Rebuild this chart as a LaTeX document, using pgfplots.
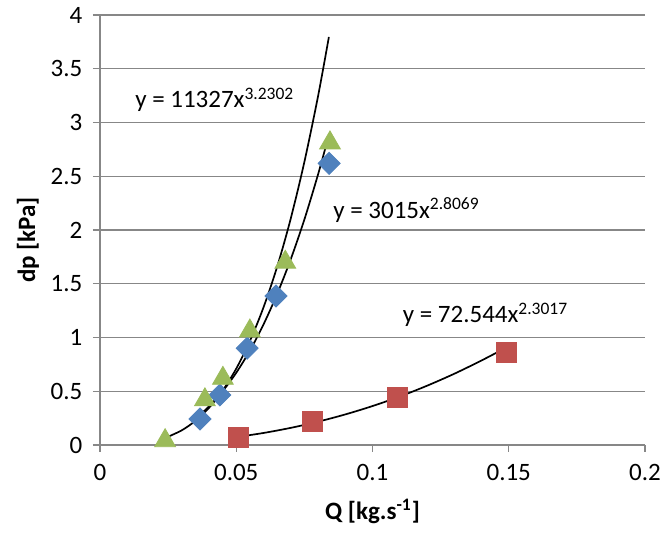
\documentclass[border=0pt]{standalone}
\usepackage{fontspec}
\setmainfont{Carlito}
\usepackage{pgfplots}
\pgfplotsset{compat=1.18}
\definecolor{xblue}{HTML}{4F81BD}
\definecolor{xred}{HTML}{C0504D}
\definecolor{xgreen}{HTML}{9BBB59}
\definecolor{xgrid}{HTML}{878787}
\begin{document}
\fontsize{12.5}{15}\selectfont
\begin{tikzpicture}
\begin{axis}[
  scale only axis,
  width=272.5pt, height=215pt,
  xmin=0, xmax=0.2, ymin=0, ymax=4,
  axis lines*=left,
  axis line style={xgrid, line width=0.6pt},
  xtick={0,0.05,0.1,0.15,0.2},
  xticklabels={0,0.05,0.1,0.15,0.2},
  ytick={0,0.5,1,1.5,2,2.5,3,3.5,4},
  yticklabels={0,0.5,1,1.5,2,2.5,3,3.5,4},
  tick align=outside,
  major tick length=3.5pt,
  tick style={xgrid, line width=0.6pt},
  ymajorgrids,
  grid style={xgrid, line width=0.6pt},
  xticklabel style={yshift=-2pt},
  yticklabel style={xshift=-1pt},
  xlabel={\bfseries Q [kg.s\textsuperscript{-1}]},
  ylabel={\bfseries dp [kPa]},
  xlabel style={at={(axis description cs:0.5,-0.155)}, anchor=center},
  ylabel style={at={(axis description cs:-0.132,0.477)}, anchor=center},
  clip=false,
]
\coordinate (sw) at (rel axis cs:0,0);
\coordinate (ne) at (rel axis cs:1,1);
% blue diamonds
\addplot[only marks, mark=square*, mark size=3.9pt, mark options={rotate=45, fill=xblue, draw=xblue}]
  coordinates {(0.0367,0.242) (0.0440,0.465) (0.0540,0.90) (0.0646,1.386) (0.0841,2.62)};
% red squares
\addplot[only marks, mark=square*, mark size=5pt, mark options={fill=xred, draw=xred}]
  coordinates {(0.0507,0.075) (0.0778,0.215) (0.1090,0.447) (0.1490,0.865)};
% green triangles
\addplot[only marks, mark=triangle*, mark size=6pt, mark options={fill=xgreen, draw=xgreen}]
  coordinates {(0.0239,0.04) (0.0385,0.42) (0.0451,0.62) (0.0550,1.06) (0.0680,1.70) (0.0844,2.81)};
% trendlines
\addplot[black, line width=0.85pt, smooth, no marks] coordinates {
  (0.0242,0.0682) (0.030,0.1364) (0.035,0.2245) (0.040,0.3454) (0.045,0.5055)
  (0.050,0.7103) (0.055,0.9666) (0.060,1.280) (0.065,1.657) (0.070,2.106)
  (0.075,2.633) (0.080,3.242) (0.084,3.796)};
\addplot[black, line width=0.85pt, smooth, no marks] coordinates {
  (0.0375,0.2998) (0.040,0.3592) (0.045,0.5001) (0.050,0.6717) (0.055,0.8781)
  (0.060,1.121) (0.065,1.404) (0.070,1.728) (0.075,2.097) (0.080,2.515) (0.0835,2.836)};
\addplot[black, line width=0.85pt, smooth, no marks] coordinates {
  (0.0505,0.0753) (0.060,0.1117) (0.070,0.1593) (0.080,0.2167) (0.090,0.2842)
  (0.100,0.3621) (0.110,0.4507) (0.120,0.551) (0.130,0.6624) (0.140,0.7859) (0.149,0.905)};
\node[anchor=west, inner sep=0pt] at (axis cs:0.0128,3.21) {y = 11327x\textsuperscript{3.2302}};
\node[anchor=west, inner sep=0pt] at (axis cs:0.0855,2.186) {y = 3015x\textsuperscript{2.8069}};
\node[anchor=west, inner sep=0pt] at (axis cs:0.1110,1.21) {y = 72.544x\textsuperscript{2.3017}};
\end{axis}
\pgfresetboundingbox
\path ([shift={(-50pt,-46pt)}]sw) rectangle ([shift={(10pt,7.5pt)}]ne);
\end{tikzpicture}
\end{document}
